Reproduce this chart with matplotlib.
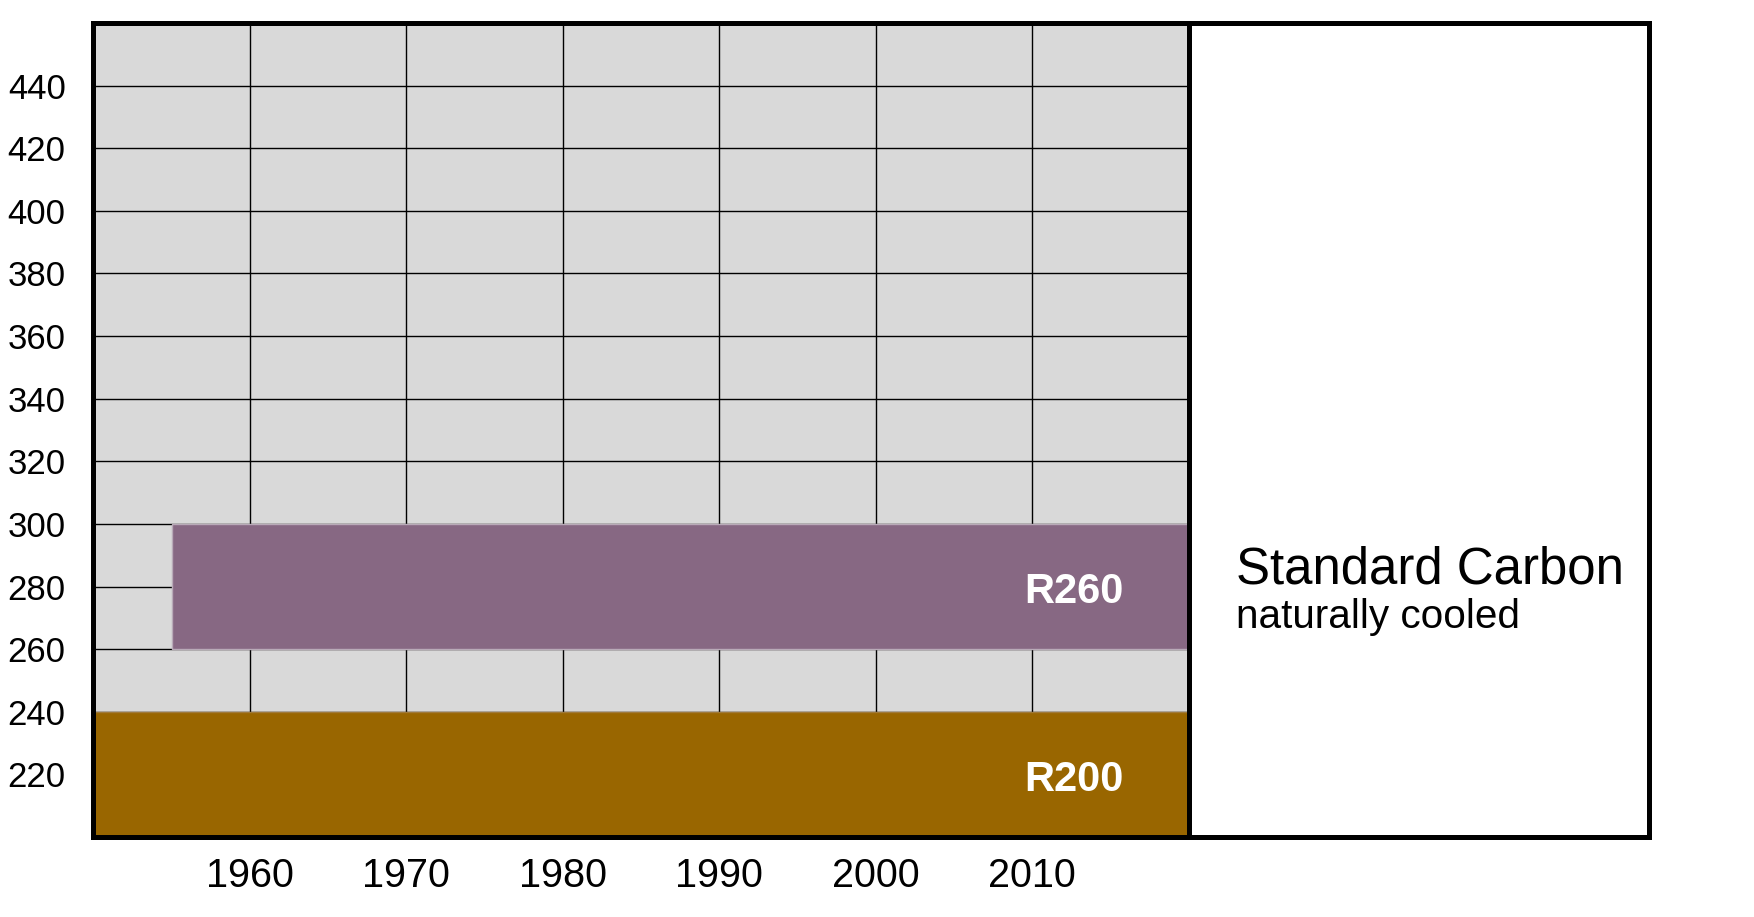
import matplotlib
matplotlib.use("Agg")
import matplotlib.pyplot as plt

plt.rcParams['font.family'] = ['Liberation Sans', 'DejaVu Sans']

# Data
years_ticks = [1960, 1970, 1980, 1990, 2000, 2010]
y_ticks = [220, 240, 260, 280, 300, 320, 340, 360, 380, 400, 420, 440]
bar_names = ["R200", "R260"]
bar_start = [1950, 1955]
bar_end = [2020, 2020]
bar_low = [200, 260]
bar_high = [240, 300]
bar_colors = ["#996600", "#876883"]
x_min, x_split, x_max = 1950, 2020, 2049.4
y_min, y_max = 200, 460
panel_title = "Standard Carbon"
panel_subtitle = "naturally cooled"

fig = plt.figure(figsize=(17.54, 9.17), dpi=100)
ax = fig.add_axes([0.0533, 0.0872, 0.9399 - 0.0533, 0.9749 - 0.0872])
ax.set_xlim(x_min, x_max)
ax.set_ylim(y_min, y_max)

# grey region
ax.axvspan(x_min, x_split, color="#D9D9D9", zorder=0, lw=0)
# grid lines in grey region
ax.hlines(y_ticks, x_min, x_split, colors="black", lw=1.0, zorder=1)
ax.vlines(years_ticks, y_min, y_max, colors="black", lw=1.0, zorder=1)

# bars
for name, s, e, lo, hi, c in zip(bar_names, bar_start, bar_end, bar_low, bar_high, bar_colors):
    ax.barh((lo + hi) / 2, e - s, height=hi - lo, left=s, color=c,
            edgecolor="#b9aab8" if name == "R260" else "#a07a3a", lw=1.0, zorder=2)
    ax.text(2015.85, lo + 14.8, name, color="white", fontsize=30, fontweight="bold",
            ha="right", va="baseline", zorder=3)

# divider
ax.axvline(x_split, color="black", lw=3.6, zorder=4)

ax.text(2023.05, 281, panel_title, fontsize=36.7, ha="left", va="baseline", zorder=4)
ax.text(2023.05, 266.9, panel_subtitle, fontsize=29.2, ha="left", va="baseline", zorder=4)

ax.set_xticks(years_ticks)
ax.set_xticklabels([str(y) for y in years_ticks], fontsize=28.5)
ax.set_yticks(y_ticks)
ax.set_yticklabels([str(y) for y in y_ticks], fontsize=25)
ax.tick_params(axis="x", length=0, pad=14.5)
ax.tick_params(axis="y", length=0, pad=20)
for sp in ax.spines.values():
    sp.set_linewidth(3.6)
    sp.set_color("black")
    sp.set_zorder(5)

fig.savefig("out.png", dpi=100)
